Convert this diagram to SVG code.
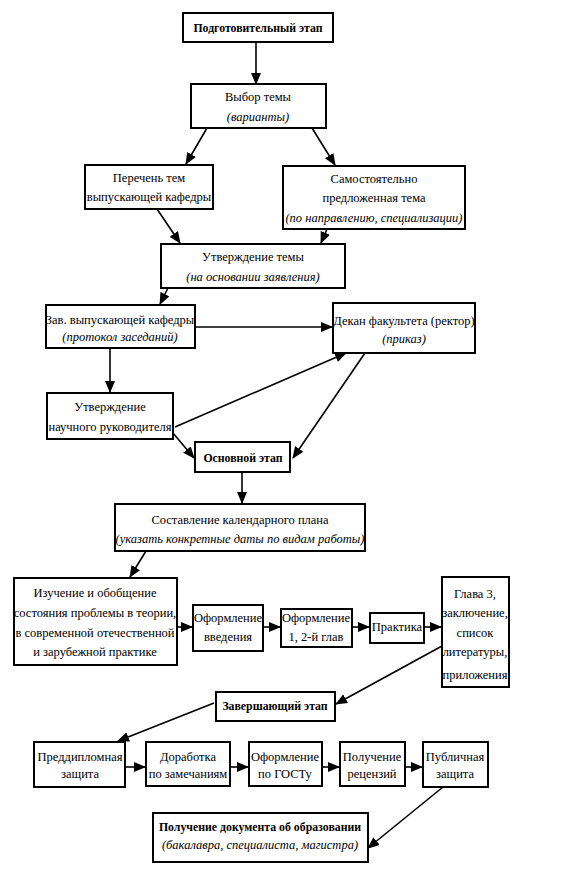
<svg xmlns="http://www.w3.org/2000/svg" width="567" height="881" viewBox="0 0 567 881">
<defs>
<marker id="ah" markerUnits="userSpaceOnUse" markerWidth="12" markerHeight="10" refX="11" refY="5" orient="auto">
<path d="M0,0 L12,5 L0,10 Z" fill="#000"/>
</marker>
</defs>
<style>
rect{fill:#fff;stroke:#000;stroke-width:2}
text{font-family:'Liberation Serif','DejaVu Serif',serif;font-size:12.5px;fill:#000;text-anchor:middle}
.b{font-weight:bold;font-size:11.8px}
.i{font-style:italic}
#connectors line{stroke:#000;stroke-width:1.6;marker-end:url(#ah)}
</style>
<rect x="0" y="0" width="567" height="881" style="fill:#fff;stroke:none"/>
<g id="connectors">
<line x1="256" y1="42" x2="256" y2="84"/>
<line x1="207" y1="128" x2="186" y2="164"/>
<line x1="312" y1="128" x2="335" y2="165"/>
<line x1="157" y1="209" x2="180" y2="243"/>
<line x1="327" y1="229" x2="321" y2="243"/>
<line x1="168" y1="288" x2="160" y2="304"/>
<line x1="195" y1="327" x2="332" y2="327"/>
<line x1="110" y1="348" x2="110" y2="392"/>
<line x1="175" y1="427" x2="346" y2="353"/>
<line x1="173" y1="433" x2="194" y2="458"/>
<line x1="365" y1="353" x2="293" y2="458"/>
<line x1="242" y1="472" x2="242" y2="503"/>
<line x1="146" y1="551" x2="130" y2="577"/>
<line x1="177" y1="627" x2="192" y2="627"/>
<line x1="263" y1="627" x2="280" y2="627"/>
<line x1="352" y1="627" x2="369" y2="627"/>
<line x1="424" y1="627" x2="441" y2="627"/>
<line x1="442" y1="646" x2="336" y2="704"/>
<line x1="214" y1="703" x2="118" y2="741"/>
<line x1="125" y1="767" x2="145" y2="767"/>
<line x1="230" y1="767" x2="248" y2="767"/>
<line x1="322" y1="767" x2="339" y2="767"/>
<line x1="405" y1="767" x2="422" y2="767"/>
<line x1="443" y1="787" x2="368" y2="848"/>
</g>
<g id="n1"><rect x="183" y="13" width="150" height="29"/><text x="258" y="32" class="b">Подготовительный этап</text></g>
<g id="n2"><rect x="191" y="84" width="135" height="44"/><text x="258" y="101">Выбор темы</text><text x="258" y="121" class="i">(варианты)</text></g>
<g id="n3"><rect x="85" y="165" width="128" height="44"/><text x="149" y="182">Перечень тем</text><text x="149" y="201">выпускающей кафедры</text></g>
<g id="n4"><rect x="283" y="166" width="182" height="63"/><text x="374" y="183">Самостоятельно</text><text x="374" y="202">предложенная тема</text><text x="374" y="222" class="i">(по направлению, специализации)</text></g>
<g id="n5"><rect x="161" y="244" width="184" height="44"/><text x="253" y="261">Утверждение темы</text><text x="253" y="281" class="i">(на основании заявления)</text></g>
<g id="n6"><rect x="46" y="305" width="149" height="43"/><text x="120" y="324">Зав. выпускающей кафедры</text><text x="120" y="341" class="i">(протокол заседаний)</text></g>
<g id="n7"><rect x="333" y="303" width="142" height="50"/><text x="404" y="325">Декан факультета (ректор)</text><text x="404" y="343" class="i">(приказ)</text></g>
<g id="n8"><rect x="47" y="393" width="126" height="46"/><text x="110" y="411">Утверждение</text><text x="110" y="431">научного руководителя</text></g>
<g id="n9"><rect x="195" y="442" width="95" height="30"/><text x="243" y="462" class="b">Основной этап</text></g>
<g id="n10"><rect x="115" y="504" width="250" height="47"/><text x="240" y="524">Составление календарного плана</text><text x="240" y="543" class="i">(указать конкретные даты по видам работы)</text></g>
<g id="n11"><rect x="14" y="578" width="163" height="87"/><text x="95" y="597">Изучение и обобщение</text><text x="95" y="617">состояния проблемы в теории,</text><text x="95" y="637">в современной отечественной</text><text x="95" y="656">и зарубежной практике</text></g>
<g id="n12"><rect x="193" y="605" width="70" height="46"/><text x="228" y="622">Оформление</text><text x="228" y="641">введения</text></g>
<g id="n13"><rect x="281" y="609" width="71" height="38"/><text x="316" y="622">Оформление</text><text x="316" y="641">1, 2-й глав</text></g>
<g id="n14"><rect x="370" y="613" width="54" height="30"/><text x="397" y="631">Практика</text></g>
<g id="n15"><rect x="442" y="577" width="67" height="110"/><text x="475" y="598">Глава 3,</text><text x="475" y="617">заключение,</text><text x="475" y="637">список</text><text x="475" y="656">литературы,</text><text x="475" y="679">приложения</text></g>
<g id="n16"><rect x="216" y="692" width="119" height="29"/><text x="275" y="710" class="b">Завершающий этап</text></g>
<g id="n17"><rect x="34" y="742" width="91" height="45"/><text x="80" y="761">Преддипломная</text><text x="80" y="778">защита</text></g>
<g id="n18"><rect x="146" y="742" width="84" height="44"/><text x="188" y="761">Доработка</text><text x="188" y="778">по замечаниям</text></g>
<g id="n19"><rect x="249" y="742" width="73" height="44"/><text x="285" y="761">Оформление</text><text x="285" y="778">по ГОСТу</text></g>
<g id="n20"><rect x="340" y="742" width="65" height="44"/><text x="372" y="761">Получение</text><text x="372" y="778">рецензий</text></g>
<g id="n21"><rect x="423" y="742" width="65" height="45"/><text x="455" y="761">Публичная</text><text x="455" y="778">защита</text></g>
<g id="n22"><rect x="153" y="813" width="215" height="49"/><text x="260" y="831" class="b">Получение документа об образовании</text><text x="260" y="849" class="i">(бакалавра, специалиста, магистра)</text></g>
</svg>
